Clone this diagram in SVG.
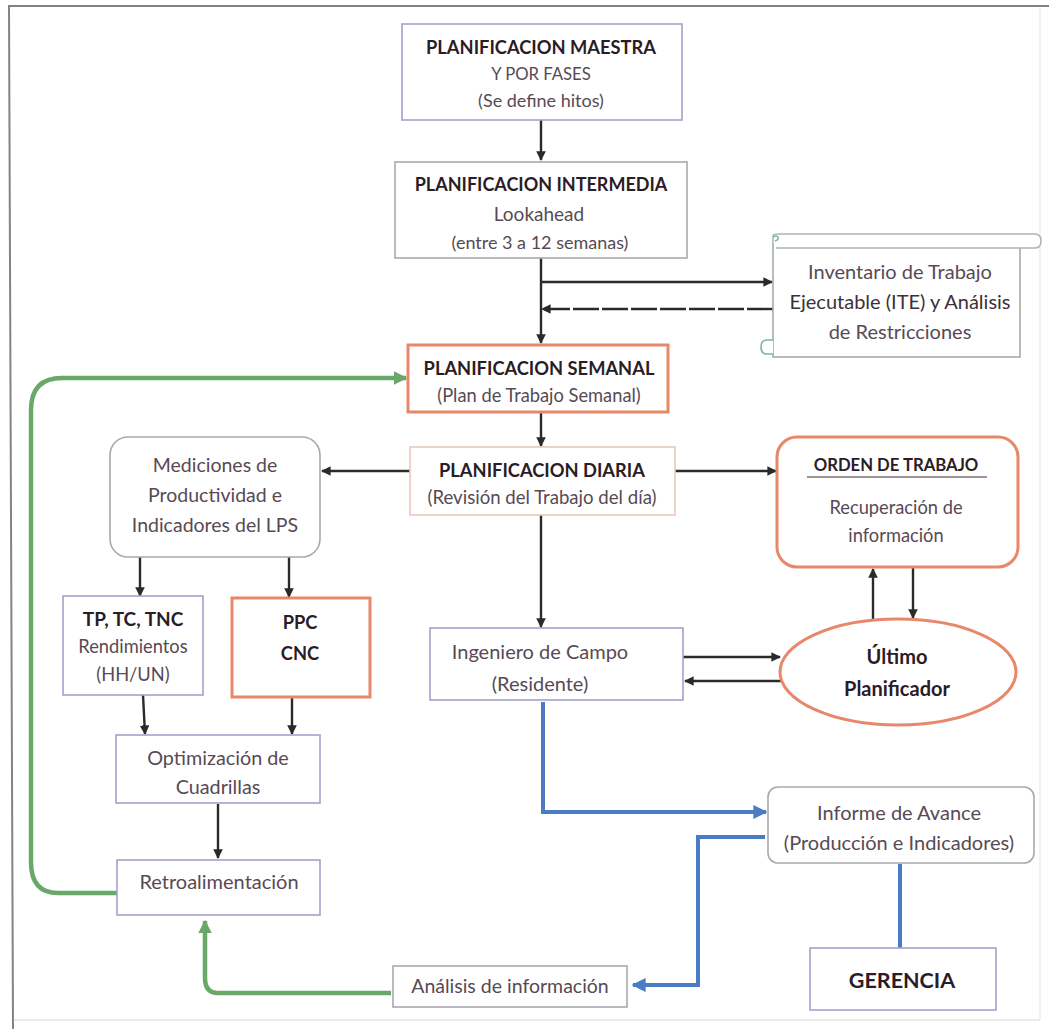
<svg xmlns="http://www.w3.org/2000/svg" width="1049" height="1029" viewBox="0 0 1049 1029">
  <style>
    text { font-family: Lato, "Open Sans", "Liberation Sans", sans-serif; text-anchor: middle; }
    .b { font-weight: bold; fill: #2b1c26; font-size: 18.3px; }
    .r { fill: #574a54; font-size: 19.5px; }
    .s { fill: #574a54; font-size: 18.3px; }
    .box { fill: #ffffff; stroke: #a2a2cc; stroke-width: 1.6; }
    .grey { fill: #ffffff; stroke: #a8a8ae; stroke-width: 1.6; }
    .hot { fill: #ffffff; stroke: #e8876a; stroke-width: 3; }
    .arw { fill: none; stroke: #2a2a2a; stroke-width: 2.4; }
    .blue { fill: none; stroke: #4a7cc6; stroke-width: 4; }
    .green { fill: none; stroke: #6aa86a; stroke-width: 4.5; }
  </style>
  <defs>
    <marker id="ah" viewBox="0 0 10 10" refX="9" refY="5" markerWidth="4" markerHeight="4" orient="auto">
      <path d="M0,0 L10,5 L0,10 z" fill="#2a2a2a"/>
    </marker>
    <marker id="ahb" viewBox="0 0 10 10" refX="9" refY="5" markerWidth="3.5" markerHeight="3.5" orient="auto">
      <path d="M0,0 L10,5 L0,10 z" fill="#4a7cc6"/>
    </marker>
    <marker id="ahg" viewBox="0 0 10 10" refX="9" refY="5" markerWidth="3" markerHeight="3" orient="auto">
      <path d="M0,0 L10,5 L0,10 z" fill="#6aa86a"/>
    </marker>
  </defs>

  <rect width="1049" height="1029" fill="#ffffff"/>
  <!-- page frame -->
  <g id="frame" fill="none" stroke="#8a7f88" stroke-width="2">
    <line x1="8" y1="6" x2="1049" y2="6"/>
    <line x1="9" y1="6" x2="13" y2="1029"/>
    <line x1="14" y1="1020" x2="1040" y2="1020" stroke="#e4e4e4" stroke-width="1.5"/>
    <line x1="1040" y1="8" x2="1040" y2="1020" stroke="#ececec" stroke-width="1.5"/>
  </g>

  <g id="connectors">
    <line class="arw" x1="541" y1="120" x2="541" y2="160" marker-end="url(#ah)"/>
    <line class="arw" x1="541" y1="258" x2="541" y2="343" marker-end="url(#ah)"/>
    <line class="arw" x1="541" y1="282" x2="772" y2="282" marker-end="url(#ah)"/>
    <line class="arw" x1="773" y1="309" x2="542" y2="309" stroke-dasharray="26 3" marker-end="url(#ah)"/>
    <line class="arw" x1="541" y1="412" x2="541" y2="446" marker-end="url(#ah)"/>
    <line class="arw" x1="410" y1="471" x2="322" y2="471" marker-end="url(#ah)"/>
    <line class="arw" x1="675" y1="471" x2="776" y2="471" marker-end="url(#ah)"/>
    <line class="arw" x1="541" y1="515" x2="541" y2="627" marker-end="url(#ah)"/>
    <line class="arw" x1="683" y1="657" x2="780" y2="657" marker-end="url(#ah)"/>
    <line class="arw" x1="782" y1="681" x2="685" y2="681" marker-end="url(#ah)"/>
    <line class="arw" x1="873" y1="620" x2="873" y2="569" marker-end="url(#ah)"/>
    <line class="arw" x1="913" y1="568" x2="913" y2="618" marker-end="url(#ah)"/>
    <line class="arw" x1="140" y1="557" x2="140" y2="596" marker-end="url(#ah)"/>
    <line class="arw" x1="289" y1="557" x2="289" y2="597" marker-end="url(#ah)"/>
    <line class="arw" x1="143" y1="695" x2="145" y2="734" marker-end="url(#ah)"/>
    <line class="arw" x1="292" y1="697" x2="292" y2="734" marker-end="url(#ah)"/>
    <line class="arw" x1="218" y1="804" x2="218" y2="858" marker-end="url(#ah)"/>
    <!-- reporting lines -->
    <path class="blue" d="M543,702 V812 H766" marker-end="url(#ahb)"/>
    <path class="blue" d="M765,837 H698 V985 H633" marker-end="url(#ahb)"/>
    <line class="blue" x1="900" y1="864" x2="900" y2="948"/>
    <!-- feedback loop -->
    <path class="green" d="M117,893 H58 Q31,893 31,862 V410 Q31,378 62,378 H406" marker-end="url(#ahg)"/>
    <path class="green" d="M391,993 H218 Q205,993 205,978 V921" marker-end="url(#ahg)"/>
  </g>

  <g id="planificacion-maestra">
    <rect class="box" x="402" y="24" width="280" height="96"/>
    <text class="b" x="541" y="54">PLANIFICACION MAESTRA</text>
    <text class="s" x="541" y="80" style="font-size:16.7px">Y POR FASES</text>
    <text class="s" x="541" y="107" style="font-size:18px">(Se define hitos)</text>
  </g>

  <g id="planificacion-intermedia">
    <rect class="grey" x="395" y="162" width="292" height="96"/>
    <text class="b" x="541" y="191" style="font-size:18px">PLANIFICACION INTERMEDIA</text>
    <text class="r" x="539" y="221" style="font-size:19px">Lookahead</text>
    <text class="s" x="540" y="249" style="font-size:18px">(entre 3 a 12 semanas)</text>
  </g>

  <g id="inventario-ite">
    <rect x="773" y="242" width="247" height="115" fill="#ffffff" stroke="#a8aaa8" stroke-width="1.6"/>
    <path d="M773,242 V236 Q773,234 778,234 H1035 Q1041,234 1041,241 Q1041,248 1035,248 H776" fill="#ffffff" stroke="#a8b8b0" stroke-width="1.6"/>
    <path d="M773,237 q3,-2 5,0 q1,3 -3,4" fill="none" stroke="#7ab8a0" stroke-width="1.5"/>
    <path d="M773,340 H767 Q761,340 761,347 Q761,354 767,354 H773" fill="#ffffff" stroke="#7ab8a0" stroke-width="1.6"/>
    <text class="r" x="900" y="279" style="font-size:20px">Inventario de Trabajo</text>
    <text class="r" x="900" y="309" style="font-size:20px;fill:#3e3038">Ejecutable (ITE) y Análisis</text>
    <text class="r" x="900" y="339" style="font-size:20px">de Restricciones</text>
  </g>

  <g id="planificacion-semanal">
    <rect class="hot" x="408" y="345" width="260" height="67"/>
    <text class="b" x="539" y="375">PLANIFICACION SEMANAL</text>
    <text class="s" x="539" y="402">(Plan de Trabajo Semanal)</text>
  </g>

  <g id="planificacion-diaria">
    <rect x="410" y="447" width="265" height="68" fill="#ffffff" stroke="#e8c8c0" stroke-width="1.6"/>
    <text class="b" x="542" y="477">PLANIFICACION DIARIA</text>
    <text class="s" x="542" y="504" style="font-size:18.6px">(Revisión del Trabajo del día)</text>
  </g>

  <g id="mediciones">
    <rect class="grey" x="110" y="437" width="210" height="120" rx="18"/>
    <text class="r" x="215" y="472">Mediciones de</text>
    <text class="r" x="215" y="502">Productividad e</text>
    <text class="r" x="215" y="532">Indicadores del LPS</text>
  </g>

  <g id="orden-de-trabajo">
    <rect class="hot" x="777" y="437" width="241" height="130" rx="20"/>
    <text class="b" x="896" y="471" style="font-size:16.7px">ORDEN DE TRABAJO</text>
    <line x1="807" y1="477" x2="987" y2="477" stroke="#3a2a34" stroke-width="1.2"/>
    <text class="s" x="896" y="514">Recuperación de</text>
    <text class="s" x="896" y="542">información</text>
  </g>

  <g id="tp-tc-tnc">
    <rect class="box" x="63" y="596" width="140" height="99"/>
    <text class="b" x="133" y="626" style="font-size:19px">TP, TC, TNC</text>
    <text class="s" x="133" y="653">Rendimientos</text>
    <text class="s" x="133" y="681">(HH/UN)</text>
  </g>

  <g id="ppc-cnc">
    <rect class="hot" x="232" y="598" width="138" height="99"/>
    <text class="b" x="300" y="629">PPC</text>
    <text class="b" x="300" y="660">CNC</text>
  </g>

  <g id="ingeniero-de-campo">
    <rect class="box" x="430" y="628" width="253" height="72"/>
    <text class="r" x="540" y="659" style="font-size:20px">Ingeniero de Campo</text>
    <text class="r" x="540" y="691" style="font-size:20px">(Residente)</text>
  </g>

  <g id="ultimo-planificador">
    <ellipse cx="898" cy="672" rx="118" ry="53" fill="#ffffff" stroke="#e8876a" stroke-width="3"/>
    <text class="b" x="897" y="664" style="font-size:20px">Último</text>
    <text class="b" x="897" y="696" style="font-size:20px">Planificador</text>
  </g>

  <g id="optimizacion">
    <rect class="box" x="116" y="735" width="204" height="68"/>
    <text class="r" x="218" y="765" style="font-size:19.8px">Optimización de</text>
    <text class="r" x="218" y="794" style="font-size:19.8px">Cuadrillas</text>
  </g>

  <g id="informe-de-avance">
    <rect class="grey" x="768" y="787" width="266" height="76" rx="10"/>
    <text class="r" x="899" y="820" style="font-size:20px">Informe de Avance</text>
    <text class="r" x="899" y="850" style="font-size:20px">(Producción e Indicadores)</text>
  </g>

  <g id="retroalimentacion">
    <rect class="box" x="117" y="860" width="203" height="55"/>
    <text class="r" x="219" y="889" style="font-size:20px">Retroalimentación</text>
  </g>

  <g id="analisis-de-informacion">
    <rect class="grey" x="393" y="966" width="234" height="41"/>
    <text class="r" x="510" y="993">Análisis de información</text>
  </g>

  <g id="gerencia">
    <rect class="box" x="810" y="948" width="186" height="62"/>
    <text class="b" x="902" y="988" style="font-size:21.5px">GERENCIA</text>
  </g>
</svg>
